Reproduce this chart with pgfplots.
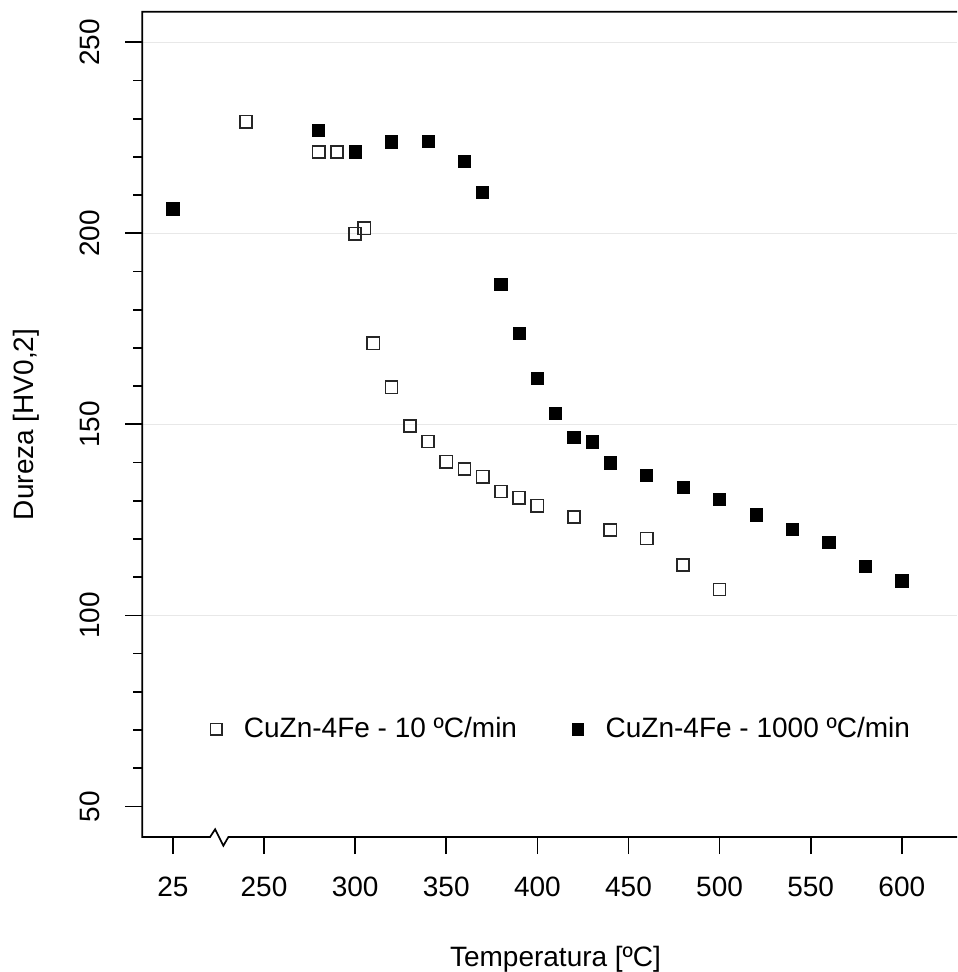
\documentclass[border=0pt]{standalone}
\usepackage{fontspec}
\setmainfont{Liberation Sans}
\usepackage{pgfplots}
\pgfplotsset{compat=1.18}
\usetikzlibrary{calc}
\newcommand\fs{\fontsize{14}{17}\selectfont}
\definecolor{gridgray}{gray}{0.91}

% x = 200 is where the 25 degC value is drawn (left of the axis break)
\pgfplotstableread{
x y
200 206.4
240 229.2
280 221.3
290 221.3
300 199.9
305 201.3
310 171.2
320 159.7
330 149.6
340 145.5
350 140.2
360 138.3
370 136.3
380 132.4
390 130.8
400 128.7
420 125.7
440 122.3
460 120.1
480 113.2
500 106.8
}\slow
\pgfplotstableread{
x y
200 206.4
280 226.9
300 221.3
320 223.9
340 224.1
360 218.8
370 210.8
380 186.6
390 173.7
400 162.1
410 152.9
420 146.6
430 145.4
440 139.9
460 136.6
480 133.5
500 130.4
520 126.3
540 122.4
560 119.1
580 112.8
600 109.0
}\fast

\begin{document}
\begin{tikzpicture}
\begin{axis}[
  scale only axis, width=407.35pt, height=412.65pt,
  xmin=183.2, xmax=630.3, ymin=42, ymax=258,
  clip=false,
  axis line style={draw=none},
  tick pos=left,
  xtick={200,250,...,600},
  xticklabels={25,250,300,350,400,450,500,550,600},
  ytick={50,100,...,250},
  minor y tick num=4,
  tick align=outside,
  major tick length=8.5pt, minor tick length=4.5pt,
  tick style={black, line width=0.85pt},
  /pgf/number format/assume math mode=true,
  xticklabel style={font=\fs, anchor=north, inner sep=0pt},
  yticklabel style={font=\fs, rotate=90, anchor=south, inner sep=0pt},
  xticklabel shift=11.5pt, yticklabel shift=12.4pt,
  xlabel={Temperatura [ºC]}, ylabel={Dureza [HV0,2]},
  xlabel style={font=\fs, at={(axis description cs:0.5072,-0.157)}, anchor=base},
  ylabel style={font=\fs, at={(axis description cs:-0.134,0.5)}, anchor=base},
  legend columns=2,
  legend image code/.code={\draw[#1, mark size=2.9pt] plot coordinates {(0pt,0pt)};},
  legend style={at={(axis cs:220.3,70.2)}, anchor=west, draw=none, fill=none,
    inner sep=0pt, font=\fs, nodes={inner sep=0pt},
    /tikz/every odd column/.append style={column sep=11pt},
    /tikz/every even column/.append style={column sep=27.5pt}},
]
\pgfplotsinvokeforeach{100,150,200,250}{
  \draw[gridgray, line width=0.75pt] (axis cs:183.2,#1) -- (axis cs:630.3,#1);
}
\addplot[only marks, mark=square, mark size=3.05pt, draw=black!85, line width=0.8pt]
  table[x=x, y=y] {\slow};
\addlegendentry{CuZn-4Fe - 10 ºC/min}
\addplot[only marks, mark=square*, mark size=3.05pt, draw=black, fill=black, line width=0.4pt]
  table[x=x, y=y] {\fast};
\addlegendentry{CuZn-4Fe - 1000 ºC/min}
\draw[line width=0.85pt] (rel axis cs:1,1) -- (rel axis cs:0,1) -- (rel axis cs:0,0)
  -- (axis cs:220.4,42) -- ++(2.5pt,3.85pt) -- ++(4.15pt,-8.2pt) -- ++(2.5pt,4.35pt)
  -- (rel axis cs:1,0);
\coordinate (bl) at (rel axis cs:0,0);
\coordinate (tr) at (rel axis cs:1,1);
\end{axis}
\pgfresetboundingbox
\path ($(bl)+(-71.15pt,-67.5pt)$) rectangle ($(tr)+(0pt,5.85pt)$);
\end{tikzpicture}
\end{document}
